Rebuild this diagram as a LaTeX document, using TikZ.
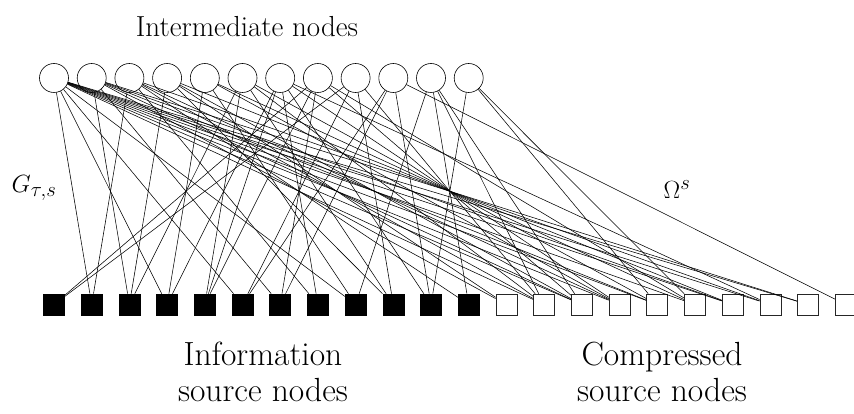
\documentclass[tikz,border=0pt]{standalone}
\usepackage{fontspec}
\setmainfont{Latin Modern Roman}
\begin{document}
\begin{tikzpicture}[x=1pt,y=-1pt,
  inter/.style={circle, draw, line width=0.6pt, minimum size=29pt, inner sep=0pt},
  infosrc/.style={rectangle, draw, fill=black, line width=0.6pt, minimum size=21pt, inner sep=0pt},
  compsrc/.style={rectangle, draw=black!85, fill=white, line width=0.6pt, minimum size=21pt, inner sep=0pt},
  link/.style={line width=0.55pt},
  titlelbl/.style={font=\fontsize{29}{34}\selectfont, inner sep=0pt},
  mathlbl/.style={font=\fontsize{31}{36}\selectfont, inner sep=0pt},
  grouplbl/.style={font=\fontsize{33.5}{36}\selectfont, align=center, inner sep=0pt, anchor=north}]
\useasboundingbox (0,0) rectangle (854,414);

% intermediate (check) nodes
\foreach \i in {1,...,12}
  \node[inter] (c\i) at ({54+37.7*(\i-1)},78) {};
% information source nodes
\foreach \j in {1,...,12}
  \node[infosrc] (s\j) at ({54+37.7*(\j-1)},304.5) {};
% compressed source nodes
\foreach \j in {13,...,22}
  \node[compsrc] (s\j) at ({54+37.7*(\j-1)},304.5) {};

% connections: intermediate node / list of source nodes
\foreach \c/\targets in {
  1/{2,4,6,9,14,15,16,17,18,19,20,21},
  2/{3,7,13,15,17,19,21},
  3/{2,8,12,14,16,20},
  4/{3,10,13,15,19},
  5/{4,9,16,18},
  6/{3,5,10,14,17},
  7/{4,5,8,11,16,20},
  8/{1,5,7,15,18},
  9/{1,6,10,14},
  10/{6,7,11,22},
  11/{9,12,14,15},
  12/{11,17,18}}
{
  \foreach \s in \targets
    \draw[link] (c\c) -- (s\s);
}

% labels
\node[titlelbl] (tinter) at (247,27) {Intermediate nodes};
\node[mathlbl] (tg) at (34,188) {$G_{\tau,s}$};
\node[mathlbl] (tom) at (677,190) {$\Omega^s$};
\node[grouplbl] (tinfo) at (263,342) {Information\\source nodes};
\node[grouplbl] (tcomp) at (662,342) {Compressed\\source nodes};
\end{tikzpicture}
\end{document}
